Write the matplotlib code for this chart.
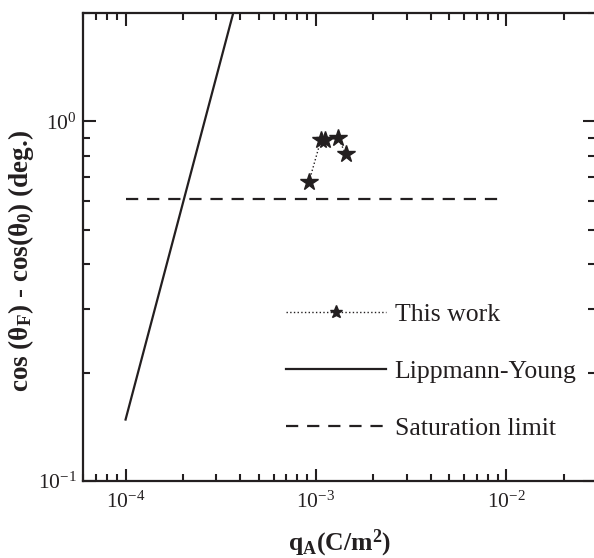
import matplotlib
matplotlib.use('Agg')
import matplotlib.pyplot as plt
from matplotlib.ticker import LogLocator, NullFormatter

plt.rcParams['font.family'] = 'Liberation Serif'
plt.rcParams['mathtext.fontset'] = 'custom'
plt.rcParams['mathtext.rm'] = 'Liberation Serif'
plt.rcParams['mathtext.it'] = 'Liberation Serif:italic'
plt.rcParams['mathtext.bf'] = 'Liberation Serif:bold'

# data
work_q = [9.2e-4, 1.06e-3, 1.11e-3, 1.31e-3, 1.43e-3]
work_cos = [0.68, 0.885, 0.885, 0.90, 0.813]

ly_q = [1.0e-4, 4.0e-4]
ly_cos = [0.148, 2.37]

sat_q = [1.0e-4, 9.0e-3]
sat_cos = [0.609, 0.609]

xticks = [1e-4, 1e-3, 1e-2]
xticklabels = [r'$\mathregular{10^{-4}}$', r'$\mathregular{10^{-3}}$', r'$\mathregular{10^{-2}}$']
yticks = [1e-1, 1e0]
yticklabels = [r'$\mathregular{10^{-1}}$', r'$\mathregular{10^{0}}$']

ink = '#231f20'

fig = plt.figure(figsize=(5.94, 5.58), dpi=100)
ax = fig.add_axes([0.1403, 0.1385, 0.8617, 0.8377])

ax.plot(work_q, work_cos, ls=':', lw=1.0, color=ink, marker='*', ms=13,
        label='This work')
ax.plot(ly_q, ly_cos, ls='-', lw=1.6, color=ink, label='Lippmann-Young')
ax.plot(sat_q, sat_cos, ls=(0, (5.5, 4)), lw=1.6, color=ink,
        label='Saturation limit')

ax.set_xscale('log')
ax.set_yscale('log')
ax.set_xlim(6.0e-5, 2.93e-2)
ax.set_ylim(0.1, 2.0)

ax.set_xticks(xticks)
ax.set_xticklabels(xticklabels, fontsize=15.5)
ax.set_yticks(yticks)
ax.set_yticklabels(yticklabels, fontsize=15.5)
ax.xaxis.set_minor_locator(LogLocator(base=10, subs=range(2, 10), numticks=20))
ax.yaxis.set_minor_locator(LogLocator(base=10, subs=range(2, 10), numticks=20))
ax.xaxis.set_minor_formatter(NullFormatter())
ax.yaxis.set_minor_formatter(NullFormatter())

ax.tick_params(which='both', direction='in', top=True, right=True,
               width=1.5, color=ink, labelcolor=ink)
ax.tick_params(which='major', length=9)
ax.tick_params(which='minor', length=5)
ax.tick_params(axis='x', which='major', pad=8)
ax.tick_params(axis='y', which='major', pad=5)
for s in ax.spines.values():
    s.set_linewidth(1.6)
    s.set_color(ink)

ax.set_xlabel(r'q$_{\mathbf{A}}$(C/m$^{\mathbf{2}}$)', fontsize=18.5,
              fontweight='bold', color=ink)
ax.xaxis.set_label_coords(0.5, -0.1)
ax.set_ylabel(r'cos (θ$_{\mathbf{F}}$) - cos(θ$_{\mathbf{0}}$) (deg.)',
              fontsize=19.5, fontweight='bold', color=ink)
ax.yaxis.set_label_coords(-0.092, 0.47)

leg = ax.legend(loc='upper left', bbox_to_anchor=(0.395, 0.381), frameon=False,
                fontsize=18.5, handlelength=3.9, handletextpad=0.35,
                labelspacing=1.33, borderpad=0, borderaxespad=0, numpoints=1,
                markerscale=0.75)
for t in leg.get_texts():
    t.set_color(ink)

fig.savefig('out.png', dpi=100)
